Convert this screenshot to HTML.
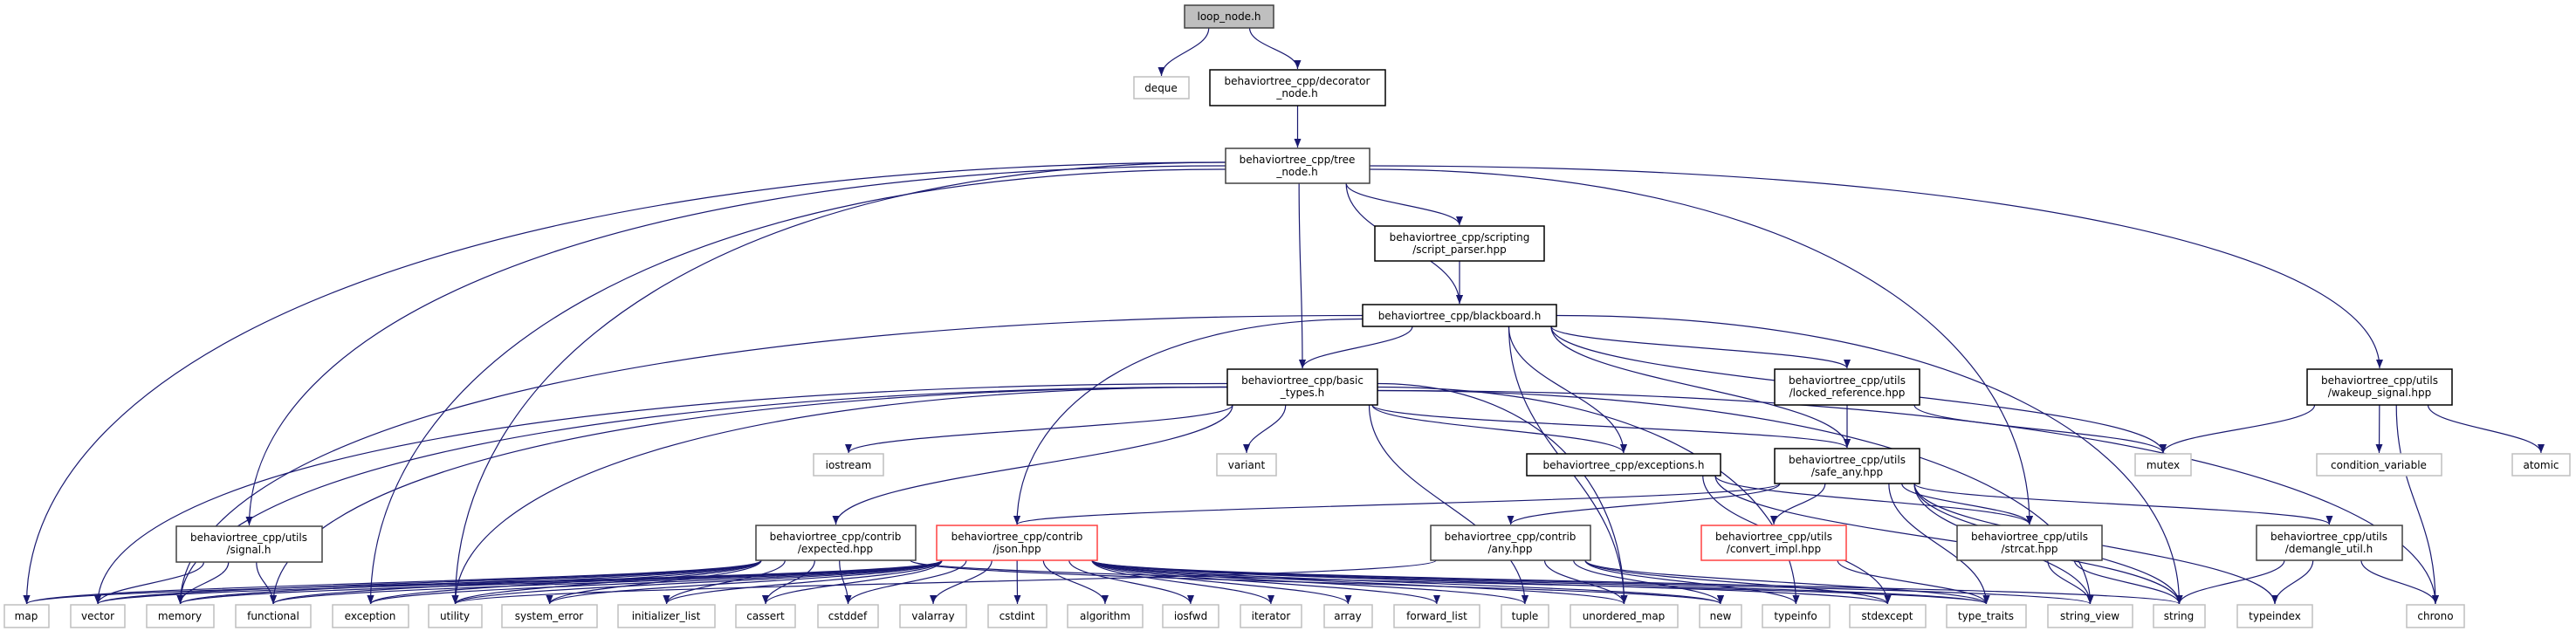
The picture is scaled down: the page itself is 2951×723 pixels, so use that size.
<!DOCTYPE html>
<html><head><meta charset="utf-8"><style>
html,body{margin:0;padding:0;background:#fff;}
svg{display:block;}
text{font-family:"DejaVu Sans","Liberation Sans",sans-serif;font-size:12px;fill:#000;}
</style></head><body>
<svg id="g" width="2951" height="723" viewBox="0 0 2951 723" xmlns="http://www.w3.org/2000/svg">
<defs><marker id="ah" viewBox="0 0 10 10" refX="10" refY="5" markerWidth="10" markerHeight="10" markerUnits="userSpaceOnUse" orient="auto"><path d="M0,1 L10,5 L0,9 z" fill="#191970"/></marker></defs>
<g id="edges" fill="none" stroke="#191970" stroke-width="1.2"></g>
<g id="nodes">
<rect x="1357" y="6" width="102" height="26" fill="#bfbfbf" stroke="#404040" stroke-width="1.5"/><text x="1408" y="23" text-anchor="middle">loop_node.h</text>
<rect x="1299" y="88" width="63" height="25" fill="#fff" stroke="#bfbfbf" stroke-width="1.5"/><text x="1330" y="105" text-anchor="middle">deque</text>
<rect x="1386" y="80" width="201" height="41" fill="#fff" stroke="#000" stroke-width="1.5"/><text x="1486" y="97" text-anchor="middle">behaviortree_cpp/decorator</text><text x="1486" y="111" text-anchor="middle">_node.h</text>
<rect x="1404" y="170" width="165" height="40" fill="#fff" stroke="#404040" stroke-width="1.5"/><text x="1486" y="187" text-anchor="middle">behaviortree_cpp/tree</text><text x="1486" y="201" text-anchor="middle">_node.h</text>
<rect x="1575" y="259" width="194" height="40" fill="#fff" stroke="#000" stroke-width="1.5"/><text x="1672" y="276" text-anchor="middle">behaviortree_cpp/scripting</text><text x="1672" y="290" text-anchor="middle">/script_parser.hpp</text>
<rect x="1561" y="349" width="222" height="25" fill="#fff" stroke="#000" stroke-width="1.5"/><text x="1672" y="366" text-anchor="middle">behaviortree_cpp/blackboard.h</text>
<rect x="1406" y="423" width="172" height="41" fill="#fff" stroke="#000" stroke-width="1.5"/><text x="1492" y="440" text-anchor="middle">behaviortree_cpp/basic</text><text x="1492" y="454" text-anchor="middle">_types.h</text>
<rect x="2033" y="423" width="166" height="41" fill="#fff" stroke="#000" stroke-width="1.5"/><text x="2116" y="440" text-anchor="middle">behaviortree_cpp/utils</text><text x="2116" y="454" text-anchor="middle">/locked_reference.hpp</text>
<rect x="2643" y="423" width="166" height="41" fill="#fff" stroke="#000" stroke-width="1.5"/><text x="2726" y="440" text-anchor="middle">behaviortree_cpp/utils</text><text x="2726" y="454" text-anchor="middle">/wakeup_signal.hpp</text>
<rect x="932" y="520" width="80" height="25" fill="#fff" stroke="#bfbfbf" stroke-width="1.5"/><text x="972" y="537" text-anchor="middle">iostream</text>
<rect x="1394" y="520" width="68" height="25" fill="#fff" stroke="#bfbfbf" stroke-width="1.5"/><text x="1428" y="537" text-anchor="middle">variant</text>
<rect x="1749" y="520" width="222" height="25" fill="#fff" stroke="#000" stroke-width="1.5"/><text x="1860" y="537" text-anchor="middle">behaviortree_cpp/exceptions.h</text>
<rect x="2033" y="514" width="166" height="40" fill="#fff" stroke="#000" stroke-width="1.5"/><text x="2116" y="531" text-anchor="middle">behaviortree_cpp/utils</text><text x="2116" y="545" text-anchor="middle">/safe_any.hpp</text>
<rect x="2446" y="520" width="64" height="25" fill="#fff" stroke="#bfbfbf" stroke-width="1.5"/><text x="2478" y="537" text-anchor="middle">mutex</text>
<rect x="2654" y="520" width="143" height="25" fill="#fff" stroke="#bfbfbf" stroke-width="1.5"/><text x="2725" y="537" text-anchor="middle">condition_variable</text>
<rect x="2878" y="520" width="66" height="25" fill="#fff" stroke="#bfbfbf" stroke-width="1.5"/><text x="2911" y="537" text-anchor="middle">atomic</text>
<rect x="202" y="603" width="167" height="41" fill="#fff" stroke="#404040" stroke-width="1.5"/><text x="285" y="620" text-anchor="middle">behaviortree_cpp/utils</text><text x="285" y="634" text-anchor="middle">/signal.h</text>
<rect x="866" y="602" width="183" height="40" fill="#fff" stroke="#404040" stroke-width="1.5"/><text x="957" y="619" text-anchor="middle">behaviortree_cpp/contrib</text><text x="957" y="633" text-anchor="middle">/expected.hpp</text>
<rect x="1073" y="602" width="184" height="40" fill="#fff" stroke="#ff4040" stroke-width="1.5"/><text x="1165" y="619" text-anchor="middle">behaviortree_cpp/contrib</text><text x="1165" y="633" text-anchor="middle">/json.hpp</text>
<rect x="1639" y="602" width="183" height="40" fill="#fff" stroke="#404040" stroke-width="1.5"/><text x="1730" y="619" text-anchor="middle">behaviortree_cpp/contrib</text><text x="1730" y="633" text-anchor="middle">/any.hpp</text>
<rect x="1949" y="602" width="166" height="40" fill="#fff" stroke="#ff4040" stroke-width="1.5"/><text x="2032" y="619" text-anchor="middle">behaviortree_cpp/utils</text><text x="2032" y="633" text-anchor="middle">/convert_impl.hpp</text>
<rect x="2242" y="602" width="166" height="40" fill="#fff" stroke="#404040" stroke-width="1.5"/><text x="2325" y="619" text-anchor="middle">behaviortree_cpp/utils</text><text x="2325" y="633" text-anchor="middle">/strcat.hpp</text>
<rect x="2585" y="602" width="167" height="40" fill="#fff" stroke="#404040" stroke-width="1.5"/><text x="2668" y="619" text-anchor="middle">behaviortree_cpp/utils</text><text x="2668" y="633" text-anchor="middle">/demangle_util.h</text>
</g>
<g id="leaves"><rect x="5" y="693" width="51" height="26" fill="#fff" stroke="#bfbfbf" stroke-width="1.5"/><text x="30" y="710" text-anchor="middle">map</text><rect x="81" y="693" width="62" height="26" fill="#fff" stroke="#bfbfbf" stroke-width="1.5"/><text x="112" y="710" text-anchor="middle">vector</text><rect x="168" y="693" width="77" height="26" fill="#fff" stroke="#bfbfbf" stroke-width="1.5"/><text x="206" y="710" text-anchor="middle">memory</text><rect x="270" y="693" width="86" height="26" fill="#fff" stroke="#bfbfbf" stroke-width="1.5"/><text x="313" y="710" text-anchor="middle">functional</text><rect x="381" y="693" width="87" height="26" fill="#fff" stroke="#bfbfbf" stroke-width="1.5"/><text x="424" y="710" text-anchor="middle">exception</text><rect x="491" y="693" width="61" height="26" fill="#fff" stroke="#bfbfbf" stroke-width="1.5"/><text x="521" y="710" text-anchor="middle">utility</text><rect x="575" y="693" width="109" height="26" fill="#fff" stroke="#bfbfbf" stroke-width="1.5"/><text x="629" y="710" text-anchor="middle">system_error</text><rect x="708" y="693" width="111" height="26" fill="#fff" stroke="#bfbfbf" stroke-width="1.5"/><text x="763" y="710" text-anchor="middle">initializer_list</text><rect x="843" y="693" width="68" height="26" fill="#fff" stroke="#bfbfbf" stroke-width="1.5"/><text x="877" y="710" text-anchor="middle">cassert</text><rect x="937" y="693" width="69" height="26" fill="#fff" stroke="#bfbfbf" stroke-width="1.5"/><text x="971" y="710" text-anchor="middle">cstddef</text><rect x="1031" y="693" width="76" height="26" fill="#fff" stroke="#bfbfbf" stroke-width="1.5"/><text x="1069" y="710" text-anchor="middle">valarray</text><rect x="1132" y="693" width="67" height="26" fill="#fff" stroke="#bfbfbf" stroke-width="1.5"/><text x="1165" y="710" text-anchor="middle">cstdint</text><rect x="1223" y="693" width="86" height="26" fill="#fff" stroke="#bfbfbf" stroke-width="1.5"/><text x="1266" y="710" text-anchor="middle">algorithm</text><rect x="1332" y="693" width="64" height="26" fill="#fff" stroke="#bfbfbf" stroke-width="1.5"/><text x="1364" y="710" text-anchor="middle">iosfwd</text><rect x="1421" y="693" width="70" height="26" fill="#fff" stroke="#bfbfbf" stroke-width="1.5"/><text x="1456" y="710" text-anchor="middle">iterator</text><rect x="1517" y="693" width="55" height="26" fill="#fff" stroke="#bfbfbf" stroke-width="1.5"/><text x="1544" y="710" text-anchor="middle">array</text><rect x="1597" y="693" width="98" height="26" fill="#fff" stroke="#bfbfbf" stroke-width="1.5"/><text x="1646" y="710" text-anchor="middle">forward_list</text><rect x="1720" y="693" width="54" height="26" fill="#fff" stroke="#bfbfbf" stroke-width="1.5"/><text x="1747" y="710" text-anchor="middle">tuple</text><rect x="1799" y="693" width="123" height="26" fill="#fff" stroke="#bfbfbf" stroke-width="1.5"/><text x="1860" y="710" text-anchor="middle">unordered_map</text><rect x="1947" y="693" width="48" height="26" fill="#fff" stroke="#bfbfbf" stroke-width="1.5"/><text x="1971" y="710" text-anchor="middle">new</text><rect x="2019" y="693" width="77" height="26" fill="#fff" stroke="#bfbfbf" stroke-width="1.5"/><text x="2057" y="710" text-anchor="middle">typeinfo</text><rect x="2119" y="693" width="87" height="26" fill="#fff" stroke="#bfbfbf" stroke-width="1.5"/><text x="2162" y="710" text-anchor="middle">stdexcept</text><rect x="2230" y="693" width="91" height="26" fill="#fff" stroke="#bfbfbf" stroke-width="1.5"/><text x="2275" y="710" text-anchor="middle">type_traits</text><rect x="2346" y="693" width="97" height="26" fill="#fff" stroke="#bfbfbf" stroke-width="1.5"/><text x="2394" y="710" text-anchor="middle">string_view</text><rect x="2467" y="693" width="59" height="26" fill="#fff" stroke="#bfbfbf" stroke-width="1.5"/><text x="2496" y="710" text-anchor="middle">string</text><rect x="2563" y="693" width="86" height="26" fill="#fff" stroke="#bfbfbf" stroke-width="1.5"/><text x="2606" y="710" text-anchor="middle">typeindex</text><rect x="2757" y="693" width="66" height="26" fill="#fff" stroke="#bfbfbf" stroke-width="1.5"/><text x="2790" y="710" text-anchor="middle">chrono</text></g>
</svg>
<script>
var N={loop:[1357,1459,6,32],deque:[1299,1362,88,113],dec:[1386,1587,80,121],tree:[1404,1569,170,210],script:[1575,1769,259,299],bb:[1561,1783,349,374],basic:[1406,1578,423,464],lock:[2033,2199,423,464],wake:[2643,2809,423,464],iostream:[932,1012,520,545],variant:[1394,1462,520,545],exc:[1749,1971,520,545],safe:[2033,2199,514,554],mutex:[2446,2510,520,545],cond:[2654,2797,520,545],atomic:[2878,2944,520,545],signal:[202,369,603,644],expected:[866,1049,602,642],json:[1073,1257,602,642],any:[1639,1822,602,642],conv:[1949,2115,602,642],strcat:[2242,2408,602,642],dem:[2585,2752,602,642]};
var L={map:[5,56],vector:[81,143],memory:[168,245],functional:[270,356],exception:[381,468],utility:[491,552],system_error:[575,684],initializer_list:[708,819],cassert:[843,911],cstddef:[937,1006],valarray:[1031,1107],cstdint:[1132,1199],algorithm:[1223,1309],iosfwd:[1332,1396],iterator:[1421,1491],array:[1517,1572],forward_list:[1597,1695],tuple:[1720,1774],unordered_map:[1799,1922],"new":[1947,1995],typeinfo:[2019,2096],stdexcept:[2119,2206],type_traits:[2230,2321],string_view:[2346,2443],string:[2467,2526],typeindex:[2563,2649],chrono:[2757,2823]};
for(var k in L)N[k]=[L[k][0],L[k][1],693,719];
var E={loop:["deque","dec"],dec:["tree"],tree:["map","signal","exception","utility","basic","bb","script","wake","strcat"],script:["bb"],
bb:["basic","memory","json","exc","lock","safe","mutex","string","unordered_map"],
basic:["vector","functional","iostream","variant","exc","safe","expected","utility","chrono","unordered_map","typeinfo","string_view","tuple","memory"],
lock:["safe","mutex"],wake:["mutex","cond","atomic","chrono"],exc:["strcat","stdexcept","string"],
safe:["json","any","conv","strcat","dem","string","type_traits","typeindex","string_view"],
signal:["vector","memory","functional"],
expected:["map","vector","memory","functional","exception","utility","system_error","initializer_list","cassert","cstddef","type_traits","new"],
json:["map","vector","memory","functional","exception","utility","initializer_list","cassert","cstddef","valarray","cstdint","algorithm","iosfwd","iterator","array","forward_list","tuple","unordered_map","string","type_traits","string_view","stdexcept","new","system_error"],
any:["utility","typeinfo","new","stdexcept","type_traits","unordered_map"],conv:["type_traits"],strcat:["string_view","string"],dem:["string","typeindex","chrono"]};
var g=document.getElementById("edges"),h="";
for(var s in E){var a=N[s],n=E[s].length;for(var i=0;i<n;i++){var b=N[E[s][i]];
var tx=(b[0]+b[1])/2,ty=b[2];var cx=(a[0]+a[1])/2;
var dx=tx-cx,dy0=ty-a[3];
if(Math.abs(dx)>1.6*dy0 && dy0>150){
 var sx=dx<0?a[0]:a[1];var sy=(a[2]+a[3])/2+(i%3-1)*4;
 h+='<path d="M'+sx+','+sy+' C'+(sx+(tx-sx)*0.65)+','+sy+' '+tx+','+(ty-(ty-sy)*0.55)+' '+tx+','+(ty-1)+'" marker-end="url(#ah)"/>';
}else{
 var sx=Math.max(a[0]+6,Math.min(a[1]-6,cx+dx*0.3));var sy=a[3];var dy=ty-sy;
 h+='<path d="M'+sx+','+sy+' C'+sx+','+(sy+dy*0.45)+' '+tx+','+(ty-dy*0.45)+' '+tx+','+(ty-1)+'" marker-end="url(#ah)"/>';
}}}
g.innerHTML=h;
</script>
</body></html>
